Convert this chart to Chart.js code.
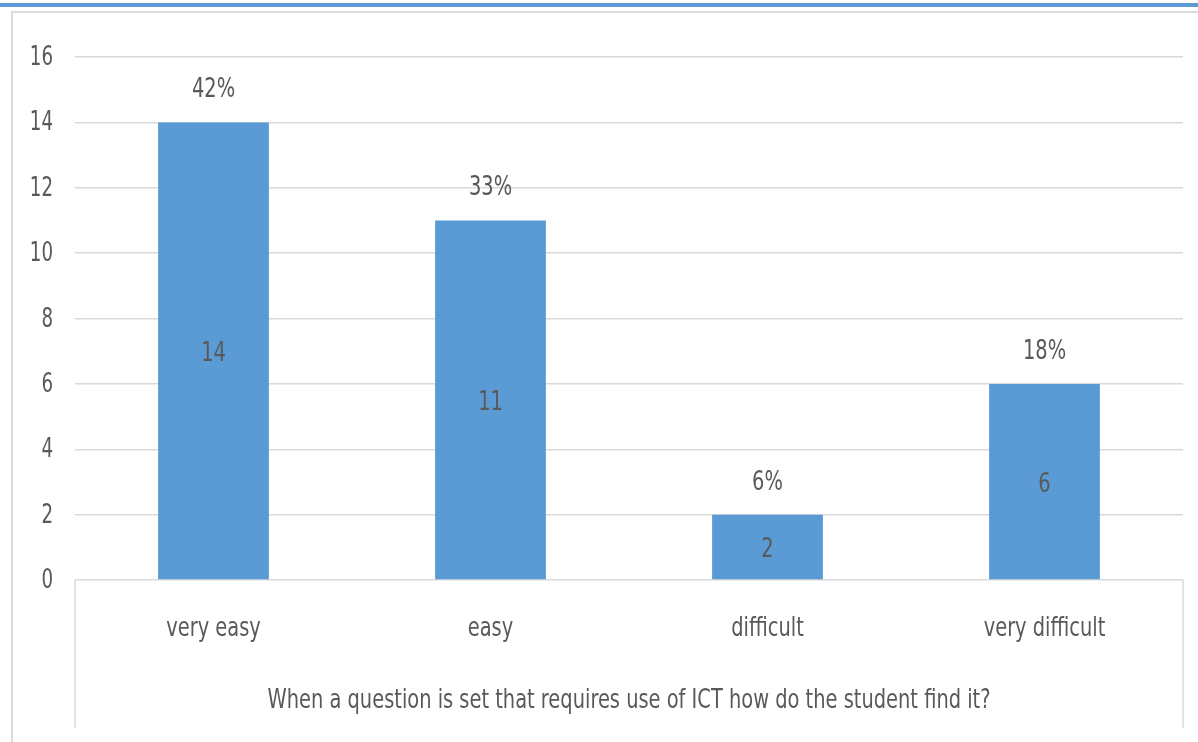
<!DOCTYPE html>
<html>
<head>
<meta charset="utf-8">
<script src="https://cdn.jsdelivr.net/npm/chart.js@4"></script>
<style>
  html, body { margin: 0; padding: 0; background: #fff; }
  #wrap { position: relative; width: 1198px; height: 742px; overflow: hidden; }
  #topBar { position: absolute; left: 0; top: 3px; width: 1198px; height: 4px; background: #5b9bd5; }
  #frameTop { position: absolute; left: 12px; top: 11px; width: 1186px; height: 2px; background: #dadada; }
  #frameLeft { position: absolute; left: 11px; top: 11px; width: 2px; height: 731px; background: #dadada; }
  canvas { position: absolute; left: 0; top: 0; }
</style>
</head>
<body>
<div id="wrap">
  <div id="topBar"></div>
  <div id="frameTop"></div>
  <div id="frameLeft"></div>
  <canvas id="ictChart" width="1198" height="742"></canvas>
</div>
<script>
// data
var categories = ["very easy", "easy", "difficult", "very difficult"];
var counts = [14, 11, 2, 6];
var percentLabels = ["42%", "33%", "6%", "18%"];
var yTicks = [0, 2, 4, 6, 8, 10, 12, 14, 16];
var xTitle = "When a question is set that requires use of ICT how do the student find it?";

var FONT = "'Liberation Sans Narrow', 'DejaVu Sans Condensed', sans-serif";
var TXT = "#595959";

// squeezed text, the reference font is narrow
function narrowText(ctx, txt, x, y, size, sx, align){
  ctx.save();
  ctx.font = size + "px " + FONT;
  ctx.textAlign = align || "center";
  ctx.textBaseline = "middle";
  ctx.translate(x, y);
  ctx.scale(sx, 1);
  ctx.fillText(txt, 0, 0);
  ctx.restore();
}

var labelPlugin = {
  id: "labelPlugin",
  afterDatasetsDraw: function(chart){
    var ctx = chart.ctx;
    var meta = chart.getDatasetMeta(0);
    ctx.fillStyle = TXT;
    meta.data.forEach(function(bar, i){
      var mid = (bar.y + bar.base) / 2;
      narrowText(ctx, String(counts[i]), bar.x, mid + 3, 27, 0.8);
      narrowText(ctx, percentLabels[i], bar.x, bar.y - 32, 27, 0.8);
    });
  },
  afterDraw: function(chart){
    var ctx = chart.ctx;
    var a = chart.chartArea;
    var xs = chart.scales.x;
    var ys = chart.scales.y;
    // box under the axis
    ctx.save();
    ctx.strokeStyle = "#d9d9d9";
    ctx.lineWidth = 1.5;
    ctx.beginPath();
    ctx.moveTo(a.left, a.bottom);
    ctx.lineTo(a.left, xs.bottom);
    ctx.moveTo(a.right, a.bottom);
    ctx.lineTo(a.right, xs.bottom);
    ctx.stroke();
    ctx.restore();

    ctx.fillStyle = TXT;
    yTicks.forEach(function(v){
      narrowText(ctx, String(v), a.left - 22, ys.getPixelForValue(v) + 1, 27, 0.75, "right");
    });
    categories.forEach(function(c, i){
      narrowText(ctx, c, xs.getPixelForValue(i), a.bottom + 49, 27, 0.8);
    });
    narrowText(ctx, xTitle, (a.left + a.right) / 2, a.bottom + 121, 27, 0.8);
  }
};

new Chart(document.getElementById("ictChart"), {
  type: "bar",
  data: {
    labels: categories,
    datasets: [{
      data: counts,
      backgroundColor: "#5b9bd5",
      borderWidth: 0,
      categoryPercentage: 1.0,
      barPercentage: 0.4
    }]
  },
  options: {
    responsive: false,
    animation: false,
    layout: { padding: { left: 0, right: 15, top: 57, bottom: 14 } },
    plugins: {
      legend: { display: false },
      tooltip: { enabled: false }
    },
    scales: {
      y: {
        min: 0,
        max: 16,
        afterBuildTicks: function(s){ s.ticks = yTicks.map(function(v){ return { value: v }; }); },
        afterFit: function(s){ s.width = 75; },
        grid: { color: "#d9d9d9", lineWidth: 1.5, drawTicks: false },
        border: { display: false },
        ticks: { display: false }
      },
      x: {
        afterFit: function(s){ s.height = 148; },
        grid: { display: false },
        border: { display: false },
        ticks: { display: false }
      }
    }
  },
  plugins: [labelPlugin]
});
</script>
</body>
</html>
